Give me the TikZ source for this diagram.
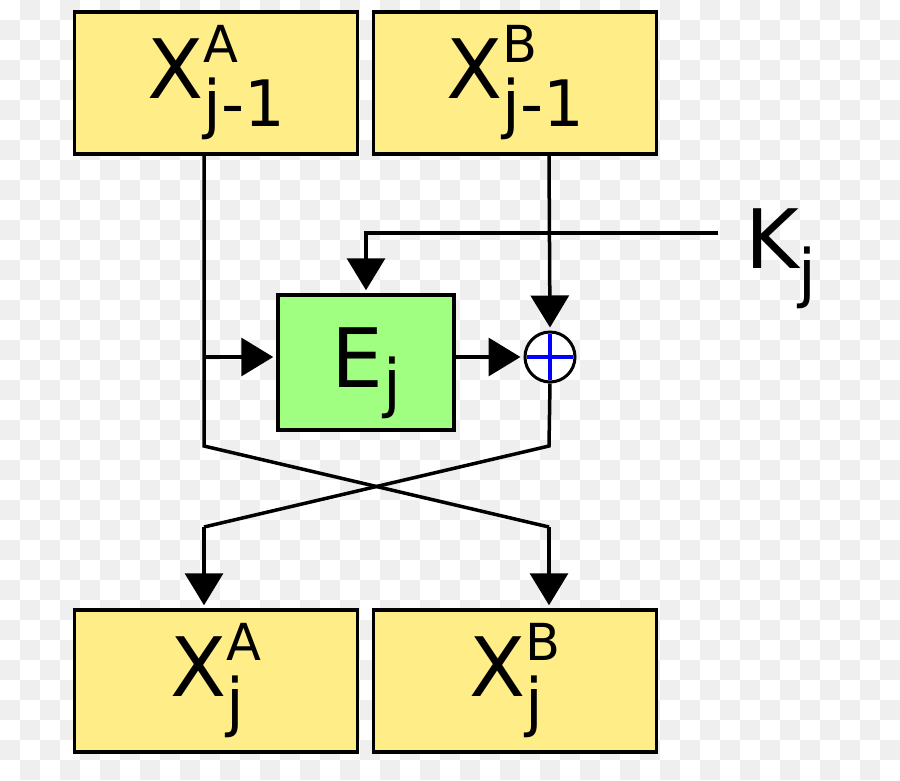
\documentclass[tikz,border=0pt]{standalone}
\usepackage{fontspec}
\setmainfont{DejaVu Sans}
\usepackage{tikz}
\usetikzlibrary{arrows.meta}
\definecolor{boxyellow}{HTML}{FFEE88}
\definecolor{boxgreen}{HTML}{A0FF80}
\definecolor{checkgray}{HTML}{EFEFEF}
\newsavebox\supbox
\newsavebox\subbox
\newcommand{\supsub}[3]{#1%
  \sbox\supbox{\fontsize{51}{51}\selectfont #2}%
  \sbox\subbox{\fontsize{64}{64}\selectfont #3}%
  \rlap{\raisebox{36pt}{\usebox\supbox}}\raisebox{-28pt}{\usebox\subbox}%
  \ifdim\wd\supbox>\wd\subbox\hspace{\dimexpr\wd\supbox-\wd\subbox\relax}\fi}
\newcommand{\lowsub}[3]{#1\raisebox{-#3}{\fontsize{64}{64}\selectfont #2}}

\begin{document}
\begin{tikzpicture}[x=1pt,y=-1pt,
    xbox/.style={draw,line width=3.5pt,fill=boxyellow,minimum width=283pt,minimum height=142pt,inner sep=0pt,font=\fontsize{82}{82}\selectfont},
    ebox/.style={draw,line width=3.5pt,fill=boxgreen,minimum width=176pt,minimum height=135pt,inner sep=0pt,text depth=10pt,font=\fontsize{82}{82}\selectfont},
    flow/.style={line width=3.5pt,-{Triangle[length=32pt,width=38pt]},shorten >=3pt}]
    \useasboundingbox (0,0) rectangle (900,780);
    % background
    \fill[white] (0,0) rectangle (900,780);
    \foreach \i in {0,...,44} {\foreach \j in {0,...,38} {
        \pgfmathtruncatemacro\s{\i+\j}
        \ifodd\s \fill[checkgray] (\i*20,\j*20) rectangle ++(20,20); \fi}}
    % blocks
    \node[xbox] (xa0) at (216,83) {\supsub{X}{A}{j-1}};
    \node[xbox] (xb0) at (515,83) {\supsub{X}{B}{j-1}};
    \node[xbox] (xa1) at (216,681) {\raisebox{-3pt}{\supsub{X}{A}{j}}};
    \node[xbox] (xb1) at (515,681) {\raisebox{-3pt}{\supsub{X}{B}{j}}};
    \node[ebox] (ej) at (366,362.5) {\lowsub{E}{j}{18pt}};
    \node[draw,circle,line width=3pt,fill=white,minimum size=50pt,inner sep=0pt] (xor) at (550,357) {};
    \draw[blue,line width=3.5pt] (xor.center) ++(0,-23) -- ++(0,46) (xor.center) ++(-23,0) -- ++(46,0);
    \node[anchor=base west,inner sep=0pt,font=\fontsize{82}{82}\selectfont] (kj) at (745,268) {\lowsub{K}{j}{27pt}};
    \coordinate (kin) at (718,233);
    \coordinate (ca) at (204,446);
    \coordinate (cb) at (549,446);
    \coordinate (da) at (204,527);
    \coordinate (db) at (549,527);
    % connectors
    \draw[flow] (kin) -| (ej.north);
    \draw[line width=3.5pt] (xa0.south -| ca) -- (ca) -- (db);
    \draw[flow] (db) -- (xb1.north -| db);
    \draw[flow] (ca |- xor) -- (ej.west |- xor);
    \draw[flow] (ej.east |- xor) -- (xor.west);
    \draw[flow] (xb0.south -| cb) -- (xor.north);
    \draw[line width=3.5pt] (xor.south) -- (cb) -- (da);
    \draw[flow] (da) -- (xa1.north -| da);
\end{tikzpicture}
\end{document}
